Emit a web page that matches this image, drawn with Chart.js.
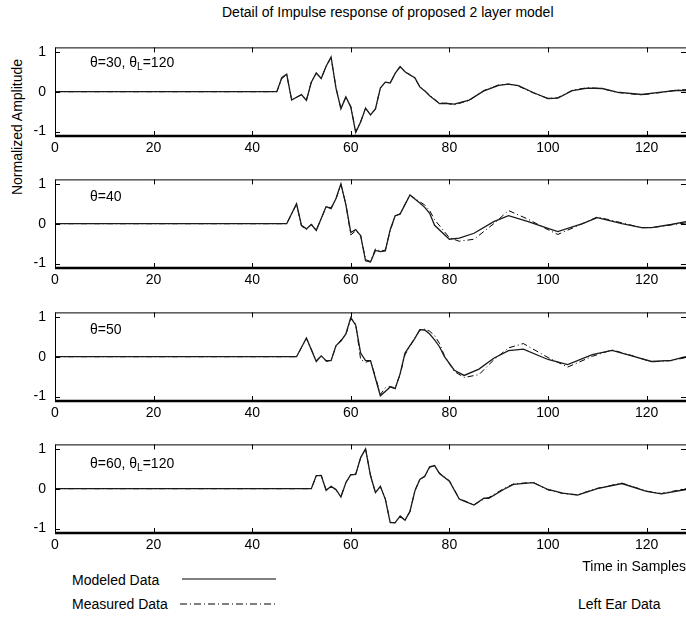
<!DOCTYPE html>
<html>
<head>
<meta charset="utf-8">
<script src="https://cdn.jsdelivr.net/npm/chart.js@4"></script>
<style>
  html, body { margin: 0; padding: 0; background: #fff; overflow: hidden; }
  body { width: 686px; height: 618px; position: relative; font-family: "Liberation Sans", Arial, sans-serif; font-size: 14px; color: #000; }
  canvas { position: absolute; left: 0; }
  .txt { position: absolute; white-space: nowrap; line-height: 16px; }
  sub { font-size: 10px; vertical-align: -3px; line-height: 0; }
</style>
</head>
<body>
<div class="txt" style="left:222px; top:4px;">Detail of Impulse response of proposed 2 layer model</div>
<div class="txt" style="left:17px; top:127px; transform: translate(-50%,-50%) rotate(-90deg);">Normalized Amplitude</div>

<canvas id="p1" width="700" height="140" style="top:30px"></canvas>
<canvas id="p2" width="700" height="140" style="top:162px"></canvas>
<canvas id="p3" width="700" height="140" style="top:295px"></canvas>
<canvas id="p4" width="700" height="140" style="top:427px"></canvas>

<div class="txt" style="left:90px; top:54px;">θ=30, θ<sub>L</sub>=120</div>
<div class="txt" style="left:90px; top:188px;">θ=40</div>
<div class="txt" style="left:90px; top:321px;">θ=50</div>
<div class="txt" style="left:90px; top:455px;">θ=60, θ<sub>L</sub>=120</div>

<div class="txt" style="right:0px; top:558px;">Time in Samples</div>
<div class="txt" style="left:72px; top:572px;">Modeled Data</div>
<div class="txt" style="left:72px; top:596px;">Measured Data</div>
<div class="txt" style="left:578px; top:596px;">Left Ear Data</div>
<svg style="position:absolute; left:0; top:560px;" width="300" height="58">
  <line x1="182" y1="19" x2="276" y2="19" stroke="#808080" stroke-width="2"/>
  <line x1="180" y1="44" x2="276" y2="44" stroke="#000" stroke-width="1" stroke-dasharray="7,3,1,3"/>
</svg>

<script>
// x tick labels (time in samples) and y tick labels
const xTicks = [0, 20, 40, 60, 80, 100, 120];
const yTicks = [-1, 0, 1];

// panel 1: theta=30, thetaL=120
const t1 = [0,45,46,47,48,50,51,52,53,54,55,56,57,58,59,60,61,62,63,64,65,66,67,68,69,70,71,72,73,74,75,76,78,79,81,84,87,90,92,94,97,100,102,105,108,111,114,119,123,126,128];
const modeled1 = [0,0,0.35,0.44,-0.21,-0.07,-0.22,0.24,0.47,0.33,0.64,0.87,0.09,-0.43,-0.13,-0.38,-1.02,-0.76,-0.41,-0.58,-0.43,0.09,0.24,0.22,0.46,0.63,0.5,0.42,0.35,0.12,0.02,-0.1,-0.3,-0.29,-0.31,-0.21,0.02,0.16,0.19,0.15,-0.02,-0.17,-0.16,0.03,0.09,0.08,-0.01,-0.07,-0.01,0.03,0.03];
const measured1 = [0,0,0.33,0.43,-0.2,-0.08,-0.21,0.25,0.46,0.34,0.63,0.86,0.1,-0.42,-0.14,-0.37,-1.0,-0.75,-0.42,-0.57,-0.44,0.1,0.23,0.23,0.45,0.62,0.49,0.43,0.33,0.13,0.03,-0.09,-0.29,-0.28,-0.33,-0.22,0.03,0.17,0.19,0.14,-0.03,-0.17,-0.15,0.04,0.1,0.08,-0.02,-0.08,-0.02,0.04,0.05];

// panel 2: theta=40
const t2 = [0,47,49,50,51,52,53,55,56,57,58,59,60,61,62,63,64,65,66,67,68,69,70,72,74,75,76,77,80,82,85,89,92,96,100,102,107,110,115,119,121,125,128];
const modeled2 = [0,0,0.5,-0.04,-0.13,-0.02,-0.17,0.43,0.38,0.63,1.0,0.48,-0.22,-0.15,-0.3,-0.93,-0.96,-0.67,-0.7,-0.68,-0.15,0.2,0.24,0.72,0.52,0.41,0.26,-0.04,-0.39,-0.36,-0.24,0.05,0.2,0.05,-0.12,-0.2,0.0,0.15,0.0,-0.1,-0.1,-0.02,0.05];
const measured2 = [0,0,0.49,-0.06,-0.15,-0.01,-0.16,0.42,0.4,0.62,0.98,0.5,-0.28,-0.18,-0.29,-0.9,-0.95,-0.63,-0.69,-0.66,-0.17,0.19,0.25,0.72,0.55,0.47,0.33,0.1,-0.35,-0.44,-0.39,0.0,0.33,0.11,-0.15,-0.27,0.0,0.17,0.02,-0.1,-0.1,-0.03,0.02];

// panel 3: theta=50
const t3 = [0,49,51,53,54,55,56,57,58,59,60,61,62,63,64,65,66,67,68,69,70,71,72,73,74,75,76,77,78,79,81,83,86,89,92,95,100,104,109,113,117,121,125,128];
const modeled3 = [0,0,0.47,-0.12,0.02,-0.1,-0.1,0.28,0.39,0.57,0.98,0.79,0.09,-0.1,-0.1,-0.54,-0.98,-0.87,-0.76,-0.8,-0.43,0.09,0.28,0.46,0.68,0.67,0.57,0.42,0.25,0.0,-0.34,-0.47,-0.31,-0.04,0.15,0.19,-0.07,-0.2,0.05,0.16,0.02,-0.12,-0.09,0.0];
const measured3 = [0,0,0.46,-0.1,0.03,-0.12,-0.09,0.26,0.42,0.55,0.96,0.82,-0.07,-0.14,-0.1,-0.5,-0.95,-0.78,-0.75,-0.78,-0.45,0.05,0.26,0.47,0.66,0.69,0.64,0.53,0.33,0.02,-0.37,-0.52,-0.45,-0.08,0.22,0.33,-0.02,-0.26,0.01,0.17,0.03,-0.13,-0.1,-0.02];

// panel 4: theta=60, thetaL=120
const t4 = [0,52,53,54,55,56,57,58,59,60,61,62,63,64,65,66,67,68,69,70,71,72,73,74,75,76,77,78,80,82,83,85,87,88,91,93,97,100,103,106,110,115,120,123,128];
const modeled4 = [0,0,0.33,0.33,-0.04,0.06,-0.02,-0.21,0.15,0.35,0.36,0.78,1.0,0.33,-0.1,0.06,-0.26,-0.85,-0.85,-0.69,-0.79,-0.57,-0.06,0.23,0.31,0.55,0.58,0.38,0.19,-0.26,-0.31,-0.41,-0.24,-0.24,-0.02,0.11,0.15,-0.02,-0.11,-0.16,0.0,0.13,-0.07,-0.13,-0.02];
const measured4 = [0,0,0.32,0.34,-0.03,0.05,-0.03,-0.2,0.16,0.34,0.37,0.77,0.99,0.34,-0.09,0.05,-0.25,-0.84,-0.86,-0.68,-0.78,-0.58,-0.05,0.24,0.3,0.54,0.57,0.39,0.2,-0.25,-0.3,-0.4,-0.26,-0.22,0.0,0.12,0.16,-0.03,-0.12,-0.15,0.01,0.14,-0.06,-0.12,0.0];

// box round the plot, thick bottom axis, inward ticks on all four sides
const framePlugin = {
    id: 'frame',
    afterDraw(chart) {
        const ctx = chart.ctx;
        const a = chart.chartArea;
        const x = chart.scales.x;
        const y = chart.scales.y;
        ctx.save();
        ctx.strokeStyle = '#000';
        ctx.lineWidth = 1;
        ctx.beginPath();
        ctx.moveTo(a.left + 0.5, a.bottom);
        ctx.lineTo(a.left + 0.5, a.top + 0.5);
        ctx.lineTo(a.right + 0.5, a.top + 0.5);
        ctx.lineTo(a.right + 0.5, a.bottom);
        x.ticks.forEach(t => {
            const px = Math.round(x.getPixelForValue(t.value)) + 0.5;
            ctx.moveTo(px, a.bottom);
            ctx.lineTo(px, a.bottom - 5);
            ctx.moveTo(px, a.top);
            ctx.lineTo(px, a.top + 5);
        });
        y.ticks.forEach(t => {
            const py = Math.round(y.getPixelForValue(t.value)) + 0.5;
            ctx.moveTo(a.left, py);
            ctx.lineTo(a.left + 5, py);
            ctx.moveTo(a.right, py);
            ctx.lineTo(a.right - 5, py);
        });
        ctx.stroke();
        ctx.lineWidth = 2.5;
        ctx.beginPath();
        ctx.moveTo(a.left, a.bottom);
        ctx.lineTo(a.right + 2, a.bottom);
        ctx.stroke();
        ctx.restore();
    }
};

function toPoints(t, v) {
    return t.map((tt, i) => ({ x: tt, y: v[i] }));
}

function makePanel(id, t, modeled, measured) {
    const ctx = document.getElementById(id).getContext('2d');
    return new Chart(ctx, {
        type: 'line',
        data: {
            datasets: [{
                label: 'Modeled Data',
                data: toPoints(t, modeled),
                borderColor: '#1a1a1a',
                borderWidth: 1.3,
                pointRadius: 0,
                tension: 0,
                order: 0
            }, {
                label: 'Measured Data',
                data: toPoints(t, measured),
                borderColor: '#000',
                borderWidth: 1,
                borderDash: [6, 3, 1, 3],
                pointRadius: 0,
                tension: 0,
                order: 1
            }]
        },
        options: {
            responsive: false,
            animation: false,
            events: [],
            layout: { padding: { top: 6, right: 14, left: 0, bottom: 0 } },
            plugins: { legend: { display: false }, tooltip: { enabled: false } },
            scales: {
                x: {
                    type: 'linear',
                    min: 0,
                    max: 128,
                    grid: { display: false, tickLength: 0 },
                    border: { display: false },
                    afterBuildTicks: s => { s.ticks = xTicks.map(v => ({ value: v })); },
                    afterFit: s => { s.height = 34; },
                    ticks: {
                        color: '#000',
                        padding: 4,
                        maxRotation: 0,
                        font: { family: 'Liberation Sans', size: 14 },
                        callback: v => String(v)
                    }
                },
                y: {
                    min: -1.111,
                    max: 1.111,
                    grid: { display: false, tickLength: 0 },
                    border: { display: false },
                    afterBuildTicks: s => { s.ticks = yTicks.map(v => ({ value: v })); },
                    afterFit: s => { s.width = 55; },
                    ticks: {
                        color: '#000',
                        padding: 9,
                        font: { family: 'Liberation Sans', size: 14 },
                        callback: v => String(v)
                    }
                }
            }
        },
        plugins: [framePlugin]
    });
}

makePanel('p1', t1, modeled1, measured1);
makePanel('p2', t2, modeled2, measured2);
makePanel('p3', t3, modeled3, measured3);
makePanel('p4', t4, modeled4, measured4);
</script>
</body>
</html>
